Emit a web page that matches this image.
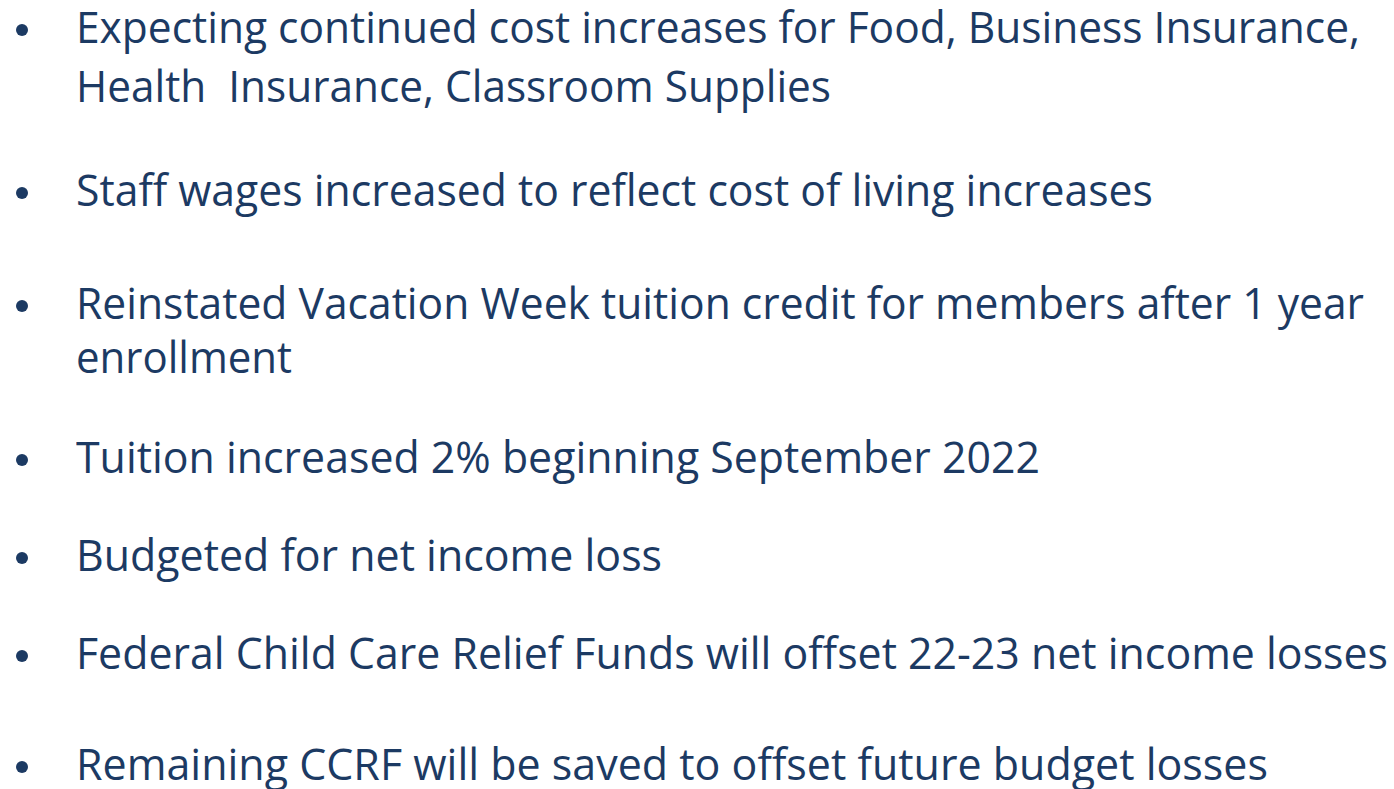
<!DOCTYPE html>
<html>
<head>
<meta charset="utf-8">
<script src="https://cdn.jsdelivr.net/npm/chart.js@4"></script>
<style>
  html, body { margin:0; padding:0; background:#ffffff; }
  body { width:1394px; height:789px; position:relative; overflow:hidden; }
  .line { position:absolute; left:76px; white-space:pre; color:#1c3a63;
          font-family:"Open Sans","Noto Sans",sans-serif; font-size:44px; line-height:1;
          transform-origin:0 0; }
  .dot { position:absolute; left:16px; width:12px; height:12px; border-radius:50%; background:#1c3a63; }
</style>
</head>
<body>
<script>
// Slide content (text only — the reference contains no chart marks)
const bulletItems = [
  ["Expecting continued cost increases for Food, Business Insurance,", "Health  Insurance, Classroom Supplies"],
  ["Staff wages increased to reflect cost of living increases"],
  ["Reinstated Vacation Week tuition credit for members after 1 year", "enrollment"],
  ["Tuition increased 2% beginning September 2022"],
  ["Budgeted for net income loss"],
  ["Federal Child Care Relief Funds will offset 22-23 net income losses"],
  ["Remaining CCRF will be saved to offset future budget losses"]
];

// layout (baselines in px, right edges in px)
const baselines = [[39,98],[202],[315,369],[469],[567],[665],[776]];
const rightEdges = [[1360,831],[1153],[1364,292],[1040],[662],[1388],[1268]];
const LEFT = 76, FONT_PX = 44;

const cvs = document.createElement('canvas');
const ctx = cvs.getContext('2d');

document.fonts.load(FONT_PX + 'px "Open Sans"').then(build, build);
function build(){
  ctx.font = FONT_PX + 'px "Open Sans"';
  bulletItems.forEach((lines, i) => {
    lines.forEach((t, j) => {
      const el = document.createElement('div');
      el.className = 'line';
      el.textContent = t;
      document.body.appendChild(el);
      const w = ctx.measureText(t).width;
      const target = rightEdges[i][j] - LEFT;
      const sx = target / w;
      const top = baselines[i][j] - FONT_PX * 0.79;
      el.style.top = top + 'px';
      el.style.transform = 'scaleX(' + sx.toFixed(4) + ')';
      if (j === 0) {
        const d = document.createElement('div');
        d.className = 'dot';
        d.style.top = (baselines[i][j] - 15) + 'px';
        document.body.appendChild(d);
      }
    });
  });
}
</script>
</body>
</html>
